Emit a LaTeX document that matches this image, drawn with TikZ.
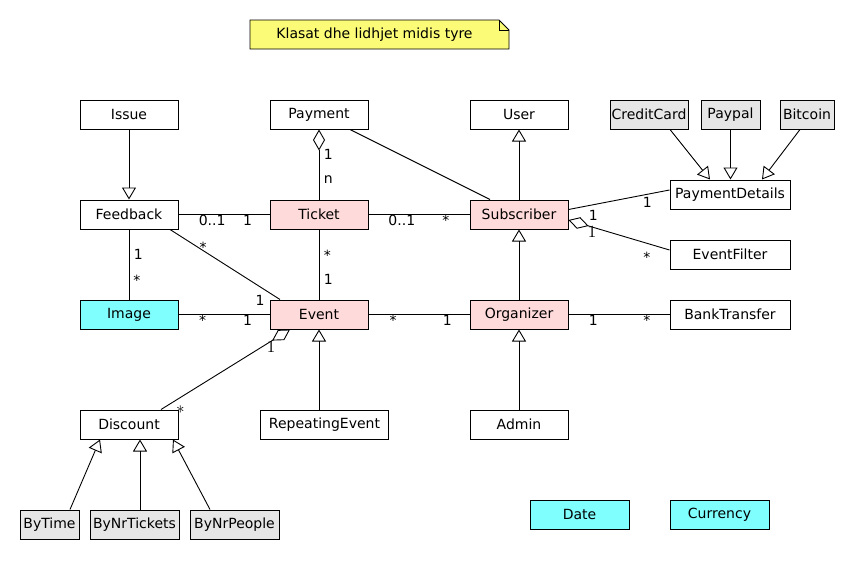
\documentclass[tikz,border=0pt]{standalone}
\usepackage{fontspec}
\setmainfont{DejaVu Sans}
\newfontfamily\serifnum{lmroman10-regular.otf}
\usetikzlibrary{arrows.meta}

\definecolor{EntityPink}{HTML}{FFDADA}
\definecolor{ValueCyan}{HTML}{80FFFF}
\definecolor{SubGray}{HTML}{E6E6E6}
\definecolor{NoteYellow}{HTML}{FBFB77}

\tikzset{
    ClassStyle/.style={draw, line width=1pt, minimum height=29pt, inner sep=0pt, font=\fontsize{14}{16}\selectfont},
    Gen/.style={-{Triangle[open,length=12pt,width=14pt]}},
    Agg/.style={-{Diamond[open,length=21pt,width=12pt]}},
    Mult/.style={inner sep=0.5pt, font=\fontsize{14}{16}\selectfont},
    SerifMult/.style={inner sep=0pt, font=\serifnum\fontsize{17}{19}\selectfont},
}

\newcommand\ClassBox[5]{%
    \node[ClassStyle, minimum width=#4] (#1) at (#2,#3) {#5};
}

\begin{document}
\begin{tikzpicture}[x=1pt, y=-1pt, line width=0.9pt]
    \useasboundingbox (0,0) rectangle (860,560);
    \draw[fill=NoteYellow] (250,20) -- (499,20) -- (509,30) -- (509,49) -- (250,49) -- cycle;
    \draw (499,20) -- (499,30) -- (509,30);
    \node[Mult] (Title) at (374.5,34.5) {Klasat dhe lidhjet midis tyre};

    \ClassBox{Issue}{129}{114.5}{98}{Issue}
    \ClassBox{Payment}{319}{114.5}{98}{Payment}
    \ClassBox{User}{519}{114.5}{98}{User}
    \ClassBox{Feedback}{129}{214.5}{98}{Feedback}
    \ClassBox{PaymentDetails}{730}{194.5}{120}{PaymentDetails}
    \ClassBox{EventFilter}{730}{254.5}{120}{EventFilter}
    \ClassBox{BankTransfer}{730}{314.5}{120}{BankTransfer}
    \ClassBox{Discount}{129}{424.5}{98}{Discount}
    \ClassBox{RepeatingEvent}{324.5}{424.5}{128}{RepeatingEvent}
    \ClassBox{Admin}{519}{424.5}{98}{Admin}
    \begin{scope}[every node/.append style={fill=EntityPink}]
        \ClassBox{Ticket}{319}{214.5}{98}{Ticket}
        \ClassBox{Subscriber}{519}{214.5}{98}{Subscriber}
        \ClassBox{Event}{319}{314.5}{98}{Event}
        \ClassBox{Organizer}{519}{314.5}{98}{Organizer}
    \end{scope}
    \begin{scope}[every node/.append style={fill=ValueCyan}]
        \ClassBox{Image}{129}{314.5}{98}{Image}
        \ClassBox{Date}{579.5}{514.5}{99}{Date}
        \ClassBox{Currency}{719.5}{514.5}{99}{Currency}
    \end{scope}
    \begin{scope}[every node/.append style={fill=SubGray}]
        \ClassBox{CreditCard}{649}{114.5}{78}{CreditCard}
        \ClassBox{Paypal}{730.5}{114.5}{59}{Paypal}
        \ClassBox{Bitcoin}{807}{114.5}{54}{Bitcoin}
        \ClassBox{ByTime}{49.5}{524.5}{59}{ByTime}
        \ClassBox{ByNrTickets}{134.5}{524.5}{89}{ByNrTickets}
        \ClassBox{ByNrPeople}{234.5}{524.5}{89}{ByNrPeople}
    \end{scope}

    \draw[Gen] (Issue.south) -- (Feedback.north);
    \draw[Agg] (Ticket.north) -- (Payment.south)
        node[Mult, pos=0.65, right=4pt] {1}
        node[Mult, pos=0.28, right=4pt] {n};
    \draw ([xshift=31pt]Payment.south) -- ([xshift=-29pt]Subscriber.north);
    \draw[Gen] (Subscriber.north) -- (User.south);
    \draw[Gen] ([xshift=21pt]CreditCard.south) -- ([xshift=-20pt]PaymentDetails.north);
    \draw[Gen] (Paypal.south) -- (Paypal.south |- PaymentDetails.north);
    \draw[Gen] ([xshift=-7pt]Bitcoin.south) -- ([xshift=32pt]PaymentDetails.north);

    \draw (Feedback.east) -- (Ticket.west)
        node[Mult, pos=0.37, below] {0..1}
        node[Mult, pos=0.76, below] {1};
    \draw (Ticket.east) -- (Subscriber.west)
        node[Mult, pos=0.33, below] {0..1}
        node[Mult, pos=0.765, below] {*};
    \draw ([yshift=5pt]Subscriber.east) -- ([yshift=4.5pt]PaymentDetails.west)
        node[Mult, pos=0.78, below=2.5pt] {1};
    \draw[Agg] ([yshift=4.5pt]EventFilter.west) -- ([yshift=-5.5pt]Subscriber.east)
        node[Mult, pos=0.225, below=8pt] {*}
        node[Mult, pos=0.755, above=6pt] {1}
        node[SerifMult, pos=0.765, yshift=-5.2pt] {1};

    \draw (Feedback.south) -- (Image.north)
        node[Mult, pos=0.35, right=4pt] {1}
        node[Mult, pos=0.72, right=3.5pt] {*};
    \draw ([xshift=41pt]Feedback.south) -- ([xshift=-39pt]Event.north)
        node[Mult, pos=0.3, yshift=3pt] {*}
        node[Mult, pos=1, xshift=-20pt, yshift=-1pt] {1};
    \draw (Ticket.south) -- (Event.north)
        node[Mult, pos=0.366, right=4pt] {*}
        node[Mult, pos=0.71, right=4pt] {1};
    \draw (Image.east) -- (Event.west)
        node[Mult, pos=0.264, below] {*}
        node[Mult, pos=0.76, below] {1};
    \draw (Event.east) -- (Organizer.west)
        node[Mult, pos=0.245, below] {*}
        node[Mult, pos=0.78, below] {1};
    \draw (Organizer.east) -- (BankTransfer.west)
        node[Mult, pos=0.245, below] {1}
        node[Mult, pos=0.775, below] {*};
    \draw[Gen] (Organizer.north) -- (Subscriber.south);

    \draw[Agg] ([xshift=32pt]Discount.north) -- ([xshift=-29pt]Event.south)
        node[SerifMult, pos=0.853, yshift=-6pt] {1}
        node[SerifMult, pos=0.151, yshift=-14.6pt] {*};
    \draw[Gen] (Event.south |- RepeatingEvent.north) -- (Event.south);
    \draw[Gen] (Admin.north) -- (Organizer.south);
    \draw[Gen] ([xshift=20.5pt]ByTime.north) -- ([xshift=-29pt]Discount.south);
    \draw[Gen] ([xshift=5.5pt]ByNrTickets.north) -- ([xshift=11pt]Discount.south);
    \draw[Gen] ([xshift=-24.5pt]ByNrPeople.north) -- ([xshift=44pt]Discount.south);
\end{tikzpicture}
\end{document}
